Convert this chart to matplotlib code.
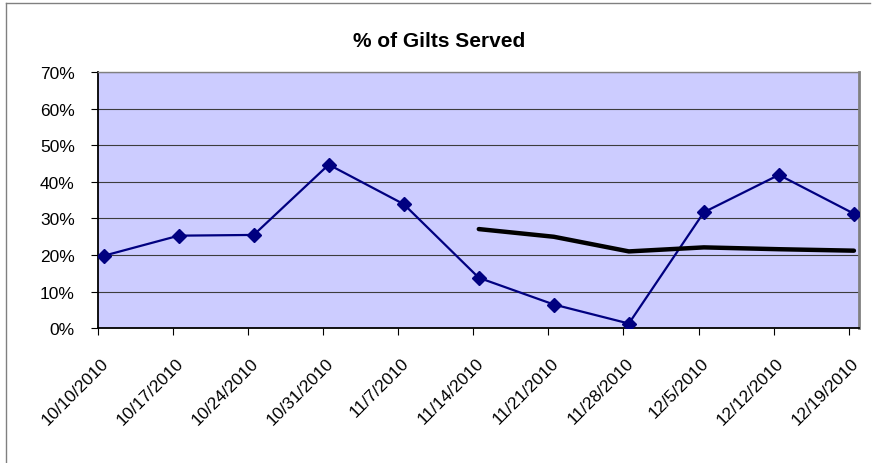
import numpy as np
import pandas as pd
import matplotlib
matplotlib.use("Agg")
import matplotlib.pyplot as plt
from matplotlib.lines import Line2D
from matplotlib.ticker import PercentFormatter
from matplotlib.transforms import ScaledTranslation

# weekly dates and values (percent)
dates = ["10/10/2010", "10/17/2010", "10/24/2010", "10/31/2010", "11/7/2010",
         "11/14/2010", "11/21/2010", "11/28/2010", "12/5/2010", "12/12/2010",
         "12/19/2010"]
gilts_served = [19.8, 25.3, 25.5, 44.7, 33.9, 13.8, 6.5, 1.3, 31.7, 41.9, 31.3]
trend = [np.nan, np.nan, np.nan, np.nan, np.nan,
         27.1, 25.0, 21.0, 22.1, 21.6, 21.2]
y_ticks = [0, 10, 20, 30, 40, 50, 60, 70]

plt.rcParams['font.family'] = ['Liberation Sans', 'DejaVu Sans']

d = pd.to_datetime(dates, format="%m/%d/%Y")
days = np.array((d - d[0]).days, dtype=float)
# excel date axis: each point sits in the middle of its day
x = days + 0.5

fig = plt.figure(figsize=(8.74, 4.64), dpi=100)
ax = fig.add_axes([98.3 / 874, 1 - 329.3 / 464, 761 / 874, 256.3 / 464])
ax.set_facecolor("#CCCCFF")

ax.plot(x, gilts_served, color="#000080", lw=1.6, marker="D", ms=7.5,
        zorder=3)
ax.plot(x, trend, color="black", lw=3.2, solid_capstyle="round", zorder=3)

ax.set_xlim(0, days[-1] + 1)
ax.set_ylim(0, 70)

ax.set_yticks(y_ticks)
ax.yaxis.set_major_formatter(PercentFormatter(xmax=100, decimals=0))
ax.grid(axis="y", color="#3c3c3c", lw=0.8)
ax.set_axisbelow(True)

ax.set_xticks(days)
ax.set_xticklabels([])
ax.set_xticks(x, labels=dates, minor=True)
ax.tick_params(axis="x", which="minor", length=0, pad=19)
ax.tick_params(axis="both", which="major", length=5, width=0.8,
               color="black")
ax.tick_params(axis="y", pad=12, labelsize=12.5)
for lab in ax.get_xticklabels(minor=True):
    lab.set_rotation(45)
    lab.set_ha("right")
    lab.set_va("top")
    lab.set_rotation_mode("anchor")
    lab.set_fontsize(12.5)
    lab.set_transform(lab.get_transform() +
                      ScaledTranslation(-0.03, 0, fig.dpi_scale_trans))

for side in ["left", "bottom"]:
    ax.spines[side].set_color("black")
    ax.spines[side].set_linewidth(1.3)
for side in ["top", "right"]:
    ax.spines[side].set_color("#808080")
ax.spines["top"].set_linewidth(1.0)
ax.spines["right"].set_linewidth(2.0)

fig.text(439 / 874, 1 - 46.7 / 464, "% of Gilts Served", ha="center",
         va="baseline", fontsize=15, fontweight="bold")

# chart area border
fig.add_artist(Line2D([5.5 / 874, 870 / 874], [1 - 3.5 / 464, 1 - 3.5 / 464],
                      transform=fig.transFigure, color="#808080", lw=1))
fig.add_artist(Line2D([5.5 / 874, 5.5 / 874], [0, 1 - 3.5 / 464],
                      transform=fig.transFigure, color="#808080", lw=1))

fig.savefig("out.png", dpi=100)
